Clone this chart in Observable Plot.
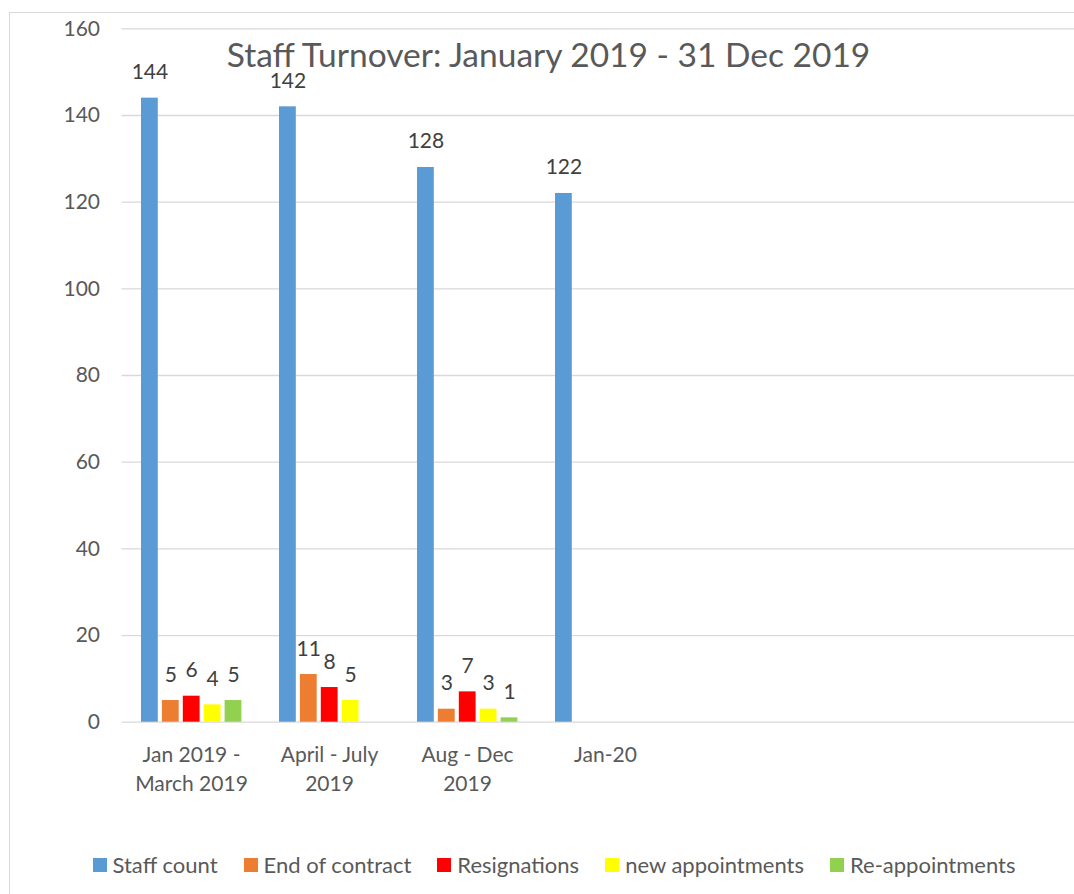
<!DOCTYPE html>
<html>
<head>
<meta charset="utf-8">
<script src="https://cdn.jsdelivr.net/npm/d3@7"></script>
<script src="https://cdn.jsdelivr.net/npm/@observablehq/plot@0.6"></script>
<style>
  html, body { margin: 0; padding: 0; background: #ffffff; }
  #wrap { position: relative; width: 1074px; height: 894px; overflow: hidden; background: #fff; }
  #frame { position: absolute; left: 9px; top: 12px; width: 1200px; height: 1000px;
           border-left: 1.5px solid #d9d9d9; border-top: 1.5px solid #d9d9d9; box-sizing: border-box; }
  #chart { position: absolute; left: 0; top: 0; }
  #legend { position: absolute; left: 0; top: 852px; width: 1108px; display: flex; justify-content: center;
            align-items: center; gap: 26px; font-family: Lato, sans-serif; font-size: 22px; line-height: 26px; color: #595959; }
  .item { display: flex; align-items: center; }
  .sw { width: 14px; height: 14px; margin-right: 6px; }
</style>
</head>
<body>
<div id="wrap">
  <div id="frame"></div>
  <div id="chart"></div>
  <div id="legend"></div>
</div>
<script>
// ---- data ----
const title = "Staff Turnover: January 2019 - 31 Dec 2019";
const categories = ["Jan 2019 - March 2019", "April - July 2019", "Aug - Dec 2019", "Jan-20"];
const tickLabels = ["Jan 2019 -\nMarch 2019", "April - July\n2019", "Aug - Dec\n2019", "Jan-20"];
const seriesNames = ["Staff count", "End of contract", "Resignations", "new appointments", "Re-appointments"];
const seriesColors = ["#5B9BD5", "#ED7D31", "#FF0000", "#FFFF00", "#92D050"];
const staffCount = [144, 142, 128, 122];
const endOfContract = [5, 11, 3, null];
const resignations = [6, 8, 7, null];
const newAppointments = [4, 5, 3, null];
const reAppointments = [5, null, 1, null];
const yTicks = [0, 20, 40, 60, 80, 100, 120, 140, 160];

const seriesValues = [staffCount, endOfContract, resignations, newAppointments, reAppointments];

// ---- layout (styles) ----
const W = 1074, H = 894;
const mLeft = 121.5, mTop = 28.3, mBottom = H - 721.7;
const step = 138.2;        // category band width
const barW = 17, pitch = 20.9, firstOff = 19;
const font = "Lato, sans-serif";

const rowsBySeries = seriesValues.map((vals, i) =>
  categories.map((c, j) => ({category: c, series: seriesNames[i], value: vals[j]}))
    .filter(d => d.value != null));

const marks = [];
marks.push(Plot.ruleY(yTicks, {stroke: "#d9d9d9", strokeWidth: 1.3}));
seriesNames.forEach((s, i) => {
  const off = firstOff + i * pitch;
  marks.push(Plot.barY(rowsBySeries[i], {
    x: "category", y: "value", fill: seriesColors[i],
    insetLeft: off, insetRight: step - off - barW
  }));
  marks.push(Plot.text(rowsBySeries[i], {
    x: "category", y: "value", text: d => String(d.value),
    dx: off + barW / 2 - step / 2, dy: -19, lineAnchor: "bottom",
    fill: "#404040", fontSize: 21
  }));
});
// category labels
marks.push(Plot.text(categories, {
  x: d => d, text: (d, i) => tickLabels[i], frameAnchor: "bottom",
  lineAnchor: "top", lineHeight: 1.357, dy: 19.6, fill: "#595959", fontSize: 21
}));
// title
marks.push(Plot.text([title], {
  frameAnchor: "top", lineAnchor: "bottom", dx: 548 - (mLeft + W) / 2, dy: 66.7 - mTop,
  fill: "#595959", fontSize: 33.5
}));

const chart = Plot.plot({
  width: W, height: H,
  marginLeft: mLeft, marginRight: 0, marginTop: mTop, marginBottom: mBottom,
  style: {fontFamily: font, fontSize: "21px", color: "#595959", background: "transparent", overflow: "visible"},
  x: {domain: categories, range: [mLeft, mLeft + step * categories.length], padding: 0, axis: null},
  y: {domain: [0, 160], ticks: yTicks, tickSize: 0, tickPadding: 22, label: null},
  marks
});
document.getElementById("chart").appendChild(chart);

// legend
const legend = document.getElementById("legend");
seriesNames.forEach((s, i) => {
  const it = document.createElement("div");
  it.className = "item";
  const sw = document.createElement("span");
  sw.className = "sw";
  sw.style.background = seriesColors[i];
  const tx = document.createElement("span");
  tx.textContent = s;
  it.appendChild(sw); it.appendChild(tx);
  legend.appendChild(it);
});
</script>
</body>
</html>
